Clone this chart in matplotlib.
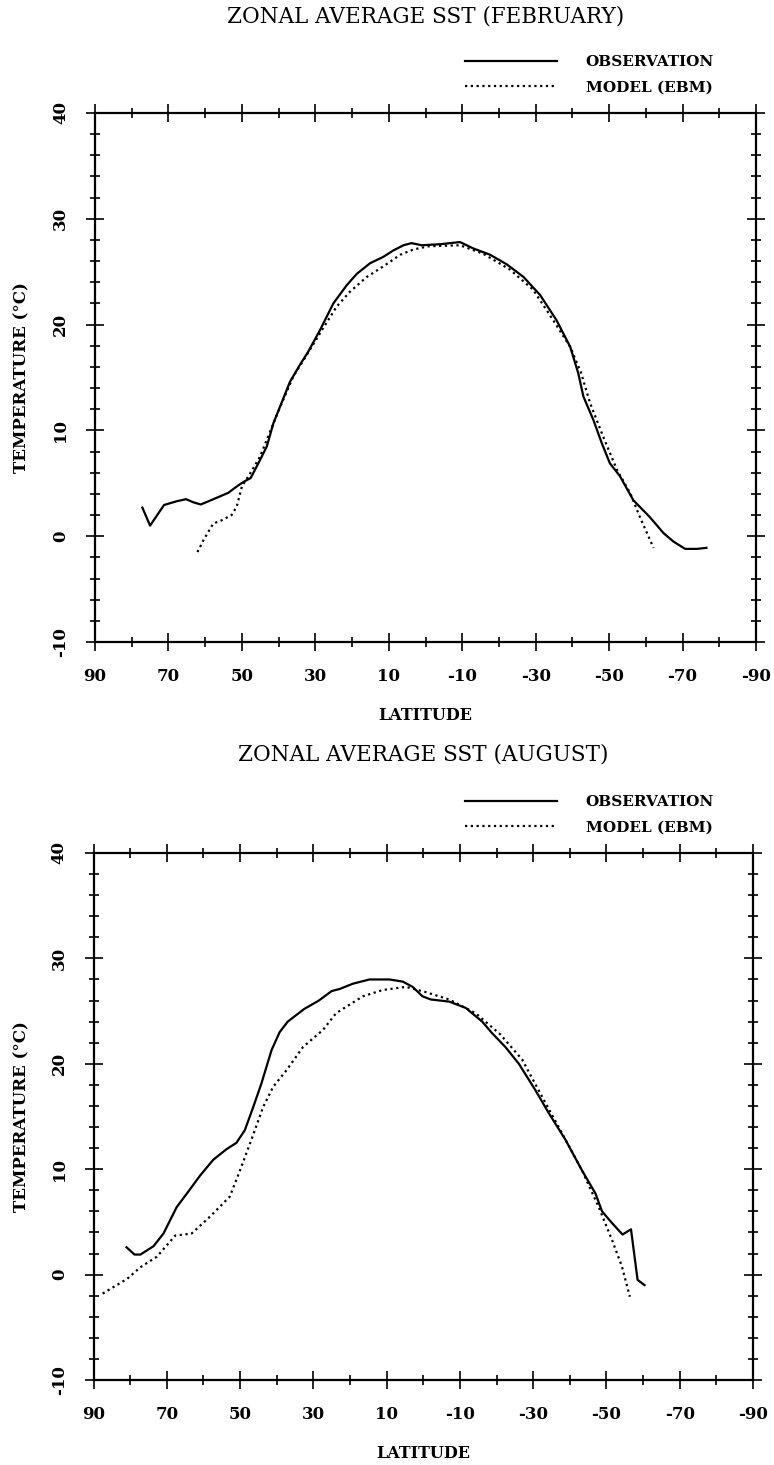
import matplotlib
matplotlib.use("Agg")
import matplotlib.pyplot as plt

# ---------------- data ----------------
feb_obs_lat = [77.1, 75.0, 71.2, 67.8, 65.2, 63.2, 61.2, 59.1, 56.4, 53.7, 51.0, 49.2, 47.6,
               45.5, 43.2, 41.4, 39.2, 36.9, 34.2, 32.0, 28.7, 25.1, 21.5, 18.7, 15.1, 11.5,
               8.8, 6.0, 3.8, 1.0, -4.0, -9.4, -13.0, -17.6, -22.1, -26.7, -31.2, -35.7,
               -39.4, -41.6, -43.0, -45.7, -48.0, -50.2, -52.9, -56.6, -61.1, -64.8, -67.5,
               -70.7, -73.9, -76.5]
feb_obs_sst = [2.7, 1.0, 2.95, 3.3, 3.5, 3.2, 3.0, 3.3, 3.7, 4.1, 4.8, 5.2, 5.5,
               6.9, 8.5, 10.7, 12.6, 14.6, 16.2, 17.4, 19.5, 22.0, 23.7, 24.8, 25.8, 26.4,
               27.0, 27.5, 27.7, 27.5, 27.6, 27.8, 27.2, 26.6, 25.7, 24.5, 22.8, 20.4,
               17.9, 15.4, 13.2, 11.0, 8.8, 6.9, 5.7, 3.4, 1.8, 0.3, -0.5,
               -1.2, -1.2, -1.1]

feb_mod_lat = [62.1, 60.5, 57.8, 55.5, 52.8, 51.4, 50.0, 47.8, 45.1, 42.3, 39.6, 36.0, 31.5,
               28.7, 24.2, 20.6, 16.0, 11.5, 6.9, 3.3, -0.8, -9.4, -15.7, -23.0, -29.3,
               -34.8, -39.4, -42.3, -44.8, -48.4, -52.1, -55.7, -58.4, -62.1]
feb_mod_sst = [-1.5, -0.4, 1.2, 1.5, 2.0, 2.8, 4.7, 5.9, 7.5, 9.9, 12.2, 15.1, 17.6,
               19.2, 21.7, 23.1, 24.5, 25.5, 26.6, 27.1, 27.4, 27.5, 26.7, 25.2, 23.3,
               20.4, 17.9, 15.5, 12.6, 9.4, 6.3, 4.1, 1.8, -1.1]

aug_obs_lat = [81.0, 78.8, 77.2, 73.6, 70.9, 67.3, 64.5, 60.9, 57.3, 53.7, 51.0, 48.7, 46.4,
               44.2, 41.4, 39.2, 37.0, 32.5, 28.5, 25.0, 22.8, 19.2, 14.7, 9.2, 5.6, 2.9,
               0.2, -2.1, -7.1, -11.6, -16.1, -18.8, -22.4, -26.1, -30.6, -34.3, -38.8,
               -43.3, -47.0, -48.8, -51.5, -54.4, -56.7, -58.5, -60.4]
aug_obs_sst = [2.6, 1.9, 1.9, 2.7, 3.9, 6.4, 7.7, 9.4, 10.9, 11.9, 12.5, 13.7, 15.9,
               18.1, 21.3, 23.0, 24.0, 25.2, 26.0, 26.9, 27.1, 27.6, 28.0, 28.0, 27.8, 27.3,
               26.4, 26.1, 25.9, 25.3, 24.0, 22.9, 21.6, 20.0, 17.5, 15.3, 12.8,
               9.9, 7.7, 6.0, 4.9, 3.8, 4.3, -0.5, -1.0]

aug_mod_lat = [87.5, 80.8, 77.2, 72.7, 67.7, 63.2, 58.2, 52.8, 50.0, 46.9, 43.7, 41.0, 37.3,
               32.8, 27.4, 23.8, 16.5, 11.1, 4.7, -0.7, -7.1, -14.3, -21.0, -27.0, -32.4,
               -37.9, -43.3, -47.9, -51.5, -54.2, -56.4]
aug_mod_sst = [-1.8, -0.4, 0.7, 1.7, 3.7, 3.9, 5.5, 7.4, 9.9, 12.8, 15.9, 17.8, 19.4,
               21.6, 23.2, 24.8, 26.4, 27.0, 27.3, 26.8, 26.1, 24.8, 22.8, 20.4, 16.9,
               13.4, 9.9, 6.4, 3.3, 0.8, -2.1]

titles = ["ZONAL AVERAGE SST (FEBRUARY)", "ZONAL AVERAGE SST (AUGUST)"]
series_labels = ["OBSERVATION", "MODEL (EBM)"]
x_major = [90, 70, 50, 30, 10, -10, -30, -50, -70, -90]
x_minor = [80, 60, 40, 20, 0, -20, -40, -60, -80]
x_ticklabels = ["90", "70", "50", "30", "10", "-10", "-30", "-50", "-70", "-90"]
y_major = [-10, 0, 10, 20, 30, 40]
y_minor = [-8, -6, -4, -2, 2, 4, 6, 8, 12, 14, 16, 18, 22, 24, 26, 28, 32, 34, 36, 38]
y_ticklabels = ["-10", "0", "10", "20", "30", "40"]
x_label = "LATITUDE"
y_label = "TEMPERATURE (°C)"

# ---------------- layout ----------------
W, H = 774, 1465
fig = plt.figure(figsize=(W / 100, H / 100), dpi=100)

SERIF = ["DejaVu Serif"]


def fx(px):
    return px / W


def fy(py):
    return 1 - py / H


panels = [
    dict(box=(95, 113, 756, 642), title_y=17, leg_y=75, xlab_y=716,
         obs=(feb_obs_lat, feb_obs_sst), mod=(feb_mod_lat, feb_mod_sst), title=titles[0]),
    dict(box=(93.5, 853, 753, 1380), title_y=755, leg_y=815, xlab_y=1453,
         obs=(aug_obs_lat, aug_obs_sst), mod=(aug_mod_lat, aug_mod_sst), title=titles[1]),
]

for p in panels:
    l, t, r, b = p["box"]
    ax = fig.add_axes([fx(l), fy(b), (r - l) / W, (b - t) / H])
    ax.plot(p["obs"][0], p["obs"][1], color="black", lw=1.6, ls="-",
            label=series_labels[0], solid_joinstyle="round")
    ax.plot(p["mod"][0], p["mod"][1], color="black", lw=1.6, ls=(0, (1, 1.6)),
            label=series_labels[1])
    ax.set_xlim(90, -90)
    ax.set_ylim(-10, 40)
    for s in ax.spines.values():
        s.set_linewidth(1.6)
    ax.set_xticks(x_major)
    ax.set_xticks(x_minor, minor=True)
    ax.set_yticks(y_major)
    ax.set_yticks(y_minor, minor=True)
    ax.set_xticklabels(x_ticklabels, fontfamily=SERIF, fontweight="bold", fontsize=12)
    ax.set_yticklabels(y_ticklabels, fontfamily=SERIF, fontweight="bold", fontsize=12,
                       rotation=90, va="center")
    ax.tick_params(which="major", direction="inout", length=13, width=1.2,
                   top=True, right=True, pad=12)
    ax.tick_params(which="minor", direction="inout", length=6.5, width=1.2,
                   top=True, right=True)
    # titles / axis labels
    fig.text(fx((l + r) / 2), fy(p["title_y"]), p["title"], ha="center", va="center",
             fontfamily=SERIF, fontsize=15.5)
    fig.text(fx((l + r) / 2), fy(p["xlab_y"]), x_label, ha="center", va="center",
             fontfamily=SERIF, fontweight="bold", fontsize=11.5)
    fig.text(fx(22), fy((t + b) / 2), y_label, ha="center", va="center", rotation=90,
             fontfamily=SERIF, fontweight="bold", fontsize=12)
    leg = ax.legend(loc="center left", bbox_to_anchor=(fx(465), fy(p["leg_y"])),
                    bbox_transform=fig.transFigure, frameon=False, borderpad=0,
                    borderaxespad=0, handlelength=6.0, handletextpad=1.9,
                    labelspacing=0.75,
                    prop=dict(family=SERIF, weight="bold", size=11))
    for line in leg.get_lines():
        line.set_linewidth(1.6)

fig.savefig("out.png", dpi=100)
